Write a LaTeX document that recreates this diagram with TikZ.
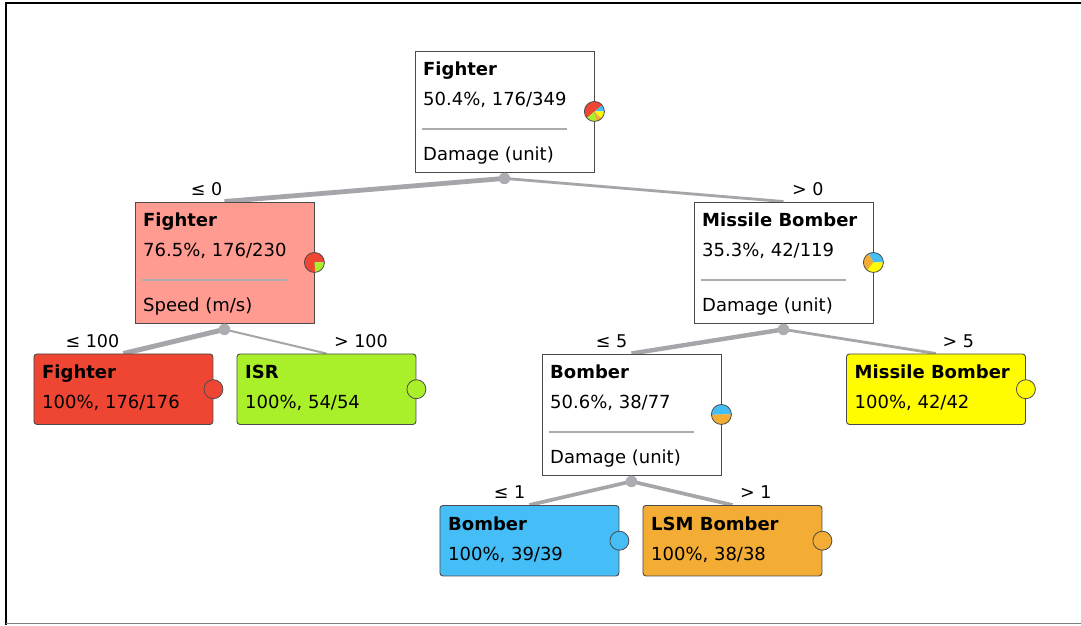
\documentclass[tikz,border=0pt]{standalone}
\usepackage{fontspec}
\setmainfont{DejaVu Sans}
\usetikzlibrary{backgrounds,calc}

% class colours
\definecolor{cBomber}{RGB}{69,190,248}
\definecolor{cFighter}{RGB}{238,70,50}
\definecolor{cISR}{RGB}{170,240,42}
\definecolor{cLSM}{RGB}{243,172,52}
\definecolor{cMissile}{RGB}{255,252,0}
\definecolor{cFighterLight}{RGB}{255,155,145}
\definecolor{edgegray}{RGB}{165,165,170}
\definecolor{jointgray}{RGB}{172,172,178}
\definecolor{boxline}{RGB}{75,75,75}
\definecolor{rulegray}{RGB}{172,172,172}

\newcommand\treefont{\fontsize{18}{22}\selectfont}
\newcommand\labelfont{\fontsize{17.5}{21}\selectfont}

\tikzset{
  box/.style={draw=boxline, line width=0.9pt, anchor=north west, inner sep=0pt, minimum width=179pt},
  splitbox/.style={box, minimum height=121pt},
  leafbox/.style={box, minimum height=70.5pt, rounded corners=3pt},
  titletext/.style={anchor=base west, inner sep=0pt, font=\treefont\bfseries},
  plaintext/.style={anchor=base west, inner sep=0pt, font=\treefont},
  rulestyle/.style={draw=rulegray, line width=1.4pt},
  joint/.style={circle, fill=jointgray, inner sep=0pt, minimum size=11.5pt},
  pieframe/.style={circle, draw=boxline, line width=0.8pt, inner sep=0pt, minimum size=20pt},
  classdot/.style={circle, draw=boxline, line width=0.8pt, inner sep=0pt, minimum size=19pt},
  edge/.style={draw=edgegray, line cap=butt},
  lelabel/.style={anchor=base east, inner sep=0pt, font=\labelfont},
  gtlabel/.style={anchor=base west, inner sep=0pt, font=\labelfont},
}

% inner node: name, x, y, fill, class, stats, split attribute
\newcommand\splitnode[7]{%
  \node[splitbox, fill=#4] (#1) at (#2,#3) {};
  \node[titletext] (#1-title) at ($(#1.north west)+(8.5,25)$) {#5};
  \node[plaintext] (#1-stat) at ($(#1.north west)+(8.5,55)$) {#6};
  \node[plaintext] (#1-attr) at ($(#1.north west)+(8.5,110)$) {#7};
  \draw[rulestyle] ($(#1.north west)+(7.5,78.5)$) -- ++(145,0);
  \node[joint] (#1-j) at ($(#1.south)+(0,6)$) {};
}
% leaf: name, x, y, fill, class, stats
\newcommand\leafnode[6]{%
  \node[leafbox, fill=#4] (#1) at (#2,#3) {};
  \node[titletext] (#1-title) at ($(#1.north west)+(8.5,25)$) {#5};
  \node[plaintext] (#1-stat) at ($(#1.north west)+(8.5,55)$) {#6};
  \node[classdot, fill=#4] (#1-dot) at (#1.east) {};
}
% pie slice: centre, start angle, end angle, colour
\newcommand\slice[4]{\fill[#4] (#1) -- ++(#2:10pt) arc[start angle=#2, end angle=#3, radius=10pt] -- cycle;}

\begin{document}
\begin{tikzpicture}[x=1pt, y=-1pt]
\useasboundingbox (0,0) rectangle (1081,625);

% frame
\draw[black, line width=2pt] (1081,3) -- (5.5,3) -- (5.5,625);
\draw[gray, line width=1pt] (5.5,623.5) -- (1081,623.5);

% split nodes
\splitnode{root}{414.5}{50.5}{white}{Fighter}{50.4\%, 176/349}{Damage (unit)}
\splitnode{speed}{134.5}{201.5}{cFighterLight}{Fighter}{76.5\%, 176/230}{Speed (m/s)}
\splitnode{dmg}{693.5}{201.5}{white}{Missile Bomber}{35.3\%, 42/119}{Damage (unit)}
\splitnode{dmgb}{541.5}{353.5}{white}{Bomber}{50.6\%, 38/77}{Damage (unit)}

% leaves
\leafnode{lfighter}{33.5}{353.5}{cFighter}{Fighter}{100\%, 176/176}
\leafnode{lisr}{236.5}{353.5}{cISR}{ISR}{100\%, 54/54}
\leafnode{lmissile}{846}{353.5}{cMissile}{Missile Bomber}{100\%, 42/42}
\leafnode{lbomber}{439.5}{505}{cBomber}{Bomber}{100\%, 39/39}
\leafnode{llsm}{642.5}{505}{cLSM}{LSM Bomber}{100\%, 38/38}

% class distribution pies
\slice{root.east}{0}{40.2}{cBomber}
\slice{root.east}{40.2}{221.7}{cFighter}
\slice{root.east}{221.7}{277.4}{cISR}
\slice{root.east}{277.4}{316.6}{cLSM}
\slice{root.east}{316.6}{360}{cMissile}
\node[pieframe] (root-pie) at (root.east) {};

\slice{speed.east}{0}{275.5}{cFighter}
\slice{speed.east}{275.5}{360}{cISR}
\node[pieframe] (speed-pie) at (speed.east) {};

\slice{dmg.east}{0}{118}{cBomber}
\slice{dmg.east}{118}{233}{cLSM}
\slice{dmg.east}{233}{360}{cMissile}
\node[pieframe] (dmg-pie) at (dmg.east) {};

\slice{dmgb.east}{0}{182.3}{cBomber}
\slice{dmgb.east}{182.3}{360}{cLSM}
\node[pieframe] (dmgb-pie) at (dmgb.east) {};

% branches, behind the boxes
\begin{pgfonlayer}{background}
  \fill[white] (0,0) rectangle (1081,625);
  \draw[edge, line width=4.8pt] (root-j.center) -- (speed.north);
  \draw[edge, line width=2.8pt] (root-j.center) -- (dmg.north);
  \draw[edge, line width=5pt] (speed-j.center) -- (lfighter.north);
  \draw[edge, line width=2pt] (speed-j.center) -- (lisr.north);
  \draw[edge, line width=4.4pt] (dmg-j.center) -- (dmgb.north);
  \draw[edge, line width=2.8pt] (dmg-j.center) -- (lmissile.north);
  \draw[edge, line width=3.7pt] (dmgb-j.center) -- (lbomber.north);
  \draw[edge, line width=3.7pt] (dmgb-j.center) -- (llsm.north);
\end{pgfonlayer}

% branch conditions
\node[lelabel] (c-speed) at ($(speed.north)+(-2,-6.5)$) {≤ 0};
\node[gtlabel] (c-dmg) at ($(dmg.north)+(8.5,-6.5)$) {> 0};
\node[lelabel] (c-lfighter) at ($(lfighter.north)+(-4,-6.5)$) {≤ 100};
\node[gtlabel] (c-lisr) at ($(lisr.north)+(7.5,-6.5)$) {> 100};
\node[lelabel] (c-dmgb) at ($(dmgb.north)+(-4,-6.5)$) {≤ 5};
\node[gtlabel] (c-lmissile) at ($(lmissile.north)+(6.5,-6.5)$) {> 5};
\node[lelabel] (c-lbomber) at ($(lbomber.north)+(-4,-6.5)$) {≤ 1};
\node[gtlabel] (c-llsm) at ($(llsm.north)+(7.5,-6.5)$) {> 1};
\end{tikzpicture}
\end{document}
